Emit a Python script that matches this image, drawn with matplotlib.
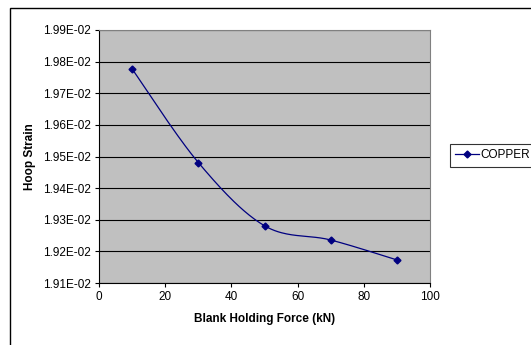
import numpy as np
import matplotlib.pyplot as plt
from matplotlib.patches import Rectangle
from matplotlib.ticker import FixedLocator

plt.rcParams["font.family"] = ["Liberation Sans", "DejaVu Sans"]

force_kn = [10, 30, 50, 70, 90]
hoop_strain = [1.9777e-2, 1.9481e-2, 1.9281e-2, 1.9236e-2, 1.9173e-2]
y_ticks = [1.91e-2, 1.92e-2, 1.93e-2, 1.94e-2, 1.95e-2, 1.96e-2, 1.97e-2, 1.98e-2, 1.99e-2]
y_tick_labels = ["1.91E-02", "1.92E-02", "1.93E-02", "1.94E-02", "1.95E-02",
                 "1.96E-02", "1.97E-02", "1.98E-02", "1.99E-02"]
x_ticks = [0, 20, 40, 60, 80, 100]
series_name = "COPPER"


def smooth_curve(x, y, xr, yr, n=40):
    # excel style smoothed line: bezier through the points, control points from neighbours
    px = np.asarray(x, float) / xr
    py = np.asarray(y, float) / yr
    out_x, out_y = [], []
    for i in range(len(px) - 1):
        p0 = np.array([px[max(i - 1, 0)], py[max(i - 1, 0)]])
        p1 = np.array([px[i], py[i]])
        p2 = np.array([px[i + 1], py[i + 1]])
        p3 = np.array([px[min(i + 2, len(px) - 1)], py[min(i + 2, len(px) - 1)]])
        c1 = p1 + (p2 - p0) / 6.0
        c2 = p2 - (p3 - p1) / 6.0
        t = np.linspace(0, 1, n)[:, None]
        b = (1 - t) ** 3 * p1 + 3 * (1 - t) ** 2 * t * c1 + 3 * (1 - t) * t ** 2 * c2 + t ** 3 * p2
        out_x.extend(b[:, 0] * xr)
        out_y.extend(b[:, 1] * yr)
    return out_x, out_y


fig = plt.figure(figsize=(5.31, 3.45), dpi=100)
ax = fig.add_axes([99 / 531, 1 - 283 / 345, 331 / 531, 253 / 345])

ax.set_facecolor("#c0c0c0")
ax.set_xlim(0, 100)
ax.set_ylim(1.91e-2, 1.99e-2)
ax.yaxis.set_major_locator(FixedLocator(y_ticks))
ax.set_yticklabels(y_tick_labels)
ax.set_xticks(x_ticks)
ax.tick_params(axis="both", labelsize=8.5, length=3, width=0.8, direction="out", pad=3)
ax.grid(axis="y", color="black", linewidth=0.8)
ax.set_axisbelow(True)

for side in ["top", "right"]:
    ax.spines[side].set_color("#808080")
for side in ["left", "bottom"]:
    ax.spines[side].set_color("black")

sx, sy = smooth_curve(force_kn, hoop_strain, 100.0, 0.08e-2)
ax.plot(sx, sy, color="#000080", linewidth=0.9, zorder=3)
ax.plot(force_kn, hoop_strain, linestyle="none", marker="D", markersize=3.5,
        color="#000080", zorder=4)
ax.plot([], [], color="#000080", linewidth=0.9, marker="D", markersize=3.5, label=series_name)

ax.set_xlabel("Blank Holding Force (kN)", fontsize=8.5, fontweight="bold", labelpad=7)
ax.set_ylabel("Hoop Strain", fontsize=8.5, fontweight="bold", labelpad=5)

leg = fig.legend(loc="upper left", bbox_to_anchor=(450 / 531, 1 - 144 / 345),
                 fontsize=8.5, frameon=True, fancybox=False, borderpad=0.45,
                 handlelength=2.0, handletextpad=0.15, borderaxespad=0)
leg.get_frame().set_edgecolor("black")
leg.get_frame().set_linewidth(0.8)

# chart area border, right and bottom edges fall outside the picture
fig.patches.append(Rectangle((10 / 531, -0.05), 1.1, 1 - 8 / 345 + 0.05,
                             transform=fig.transFigure, fill=False,
                             edgecolor="black", linewidth=1.0))

fig.savefig("out.png", dpi=100)
